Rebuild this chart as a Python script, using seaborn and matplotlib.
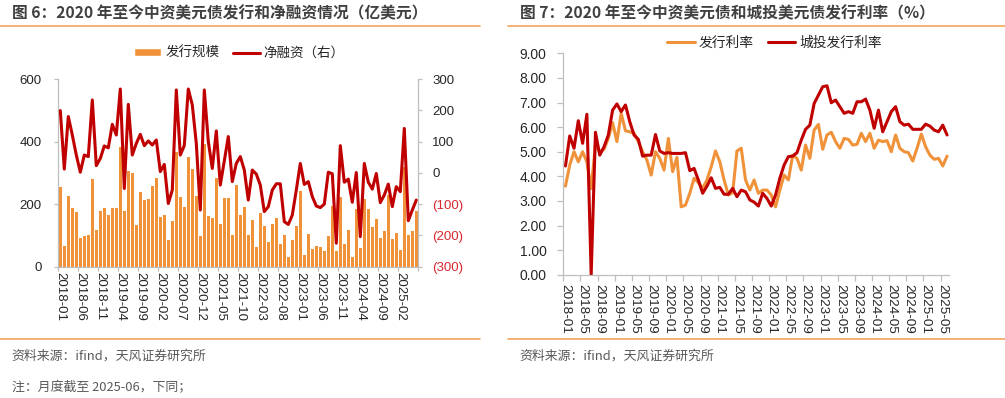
import numpy as np
import pandas as pd
import matplotlib
matplotlib.use('Agg')
import matplotlib.pyplot as plt
from matplotlib.lines import Line2D
from matplotlib.patches import Patch
import seaborn as sns

# Monthly categories 2018-01 .. 2025-06
months = pd.period_range('2018-01', '2025-06', freq='M').strftime('%Y-%m').tolist()

# Figure 6: issuance (left axis, 亿美元) and net financing (right axis)
issuance = [256, 67, 227, 188, 176, 91, 99, 100, 279, 117,
            178, 189, 165, 189, 189, 384, 178, 307, 300, 132,
            240, 214, 216, 257, 282, 158, 165, 86, 147, 368,
            223, 191, 350, 312, 225, 97, 391, 161, 155, 285,
            138, 219, 221, 101, 261, 165, 191, 101, 148, 64,
            172, 131, 78, 136, 157, 72, 100, 32, 85, 131,
            241, 38, 105, 56, 66, 64, 50, 98, 194, 51,
            223, 72, 117, 32, 183, 59, 218, 186, 126, 151,
            93, 115, 230, 90, 108, 53, 320, 101, 114, 178]
net_financing = [199, 12, 180, 121, 57, 2, 57, 52, 233, 23,
                 46, 86, 80, 155, 121, 268, -50, 219, 57, 94,
                 123, 87, 102, 89, 105, 4, 27, -98, -55, 265,
                 57, 87, 268, 217, 94, -119, 265, 100, 14, 134,
                 -39, 38, 116, -28, 30, 52, 9, -87, 9, -4,
                 -39, -124, -108, -55, -35, -35, -156, -165, -135, -55,
                 30, -37, -28, -76, -106, -111, -100, 2, -3, -225,
                 87, -30, -20, -94, 1, -204, 30, -30, -52, -2,
                 -95, -71, -36, -108, -44, -60, 142, -153, -119, -87]

# Figure 7: issuance rates (%)
rate_all = [3.60, 4.46, 5.00, 4.59, 5.00, 4.59, 3.50, 5.30, 5.00, 5.10,
            5.54, 6.18, 5.41, 6.56, 5.85, 5.81, 5.75, 5.41, 5.00, 4.66,
            4.05, 5.00, 4.73, 4.25, 5.54, 4.19, 4.77, 2.76, 2.83, 3.31,
            3.92, 3.74, 3.51, 3.85, 4.39, 5.03, 4.59, 3.85, 3.24, 3.33,
            5.03, 5.14, 3.85, 3.44, 3.85, 3.31, 3.44, 3.44, 3.24, 2.76,
            3.44, 4.05, 3.85, 4.86, 4.73, 4.25, 5.27, 4.73, 5.88, 6.11,
            5.10, 5.68, 5.79, 5.41, 5.14, 5.54, 5.50, 5.27, 5.30, 5.75,
            5.41, 5.75, 5.14, 5.47, 5.41, 5.45, 5.00, 5.68, 5.14, 5.00,
            4.96, 4.62, 5.14, 5.72, 5.20, 4.86, 4.69, 4.73, 4.42, 4.82]
rate_lgfv = [4.42, 5.64, 5.14, 6.26, 5.34, 6.52, 0.00, 5.79, 4.86, 5.20,
             5.68, 6.69, 6.94, 6.63, 6.90, 6.22, 5.68, 5.50, 4.82, 4.86,
             4.86, 5.70, 5.03, 4.93, 4.96, 4.93, 4.93, 4.93, 4.96, 4.23,
             4.32, 3.85, 3.31, 3.60, 3.94, 3.51, 3.55, 3.27, 3.27, 3.51,
             3.17, 3.44, 3.37, 3.04, 2.95, 2.79, 3.31, 3.10, 2.79, 3.24,
             3.92, 4.46, 4.80, 4.82, 4.96, 5.47, 5.91, 6.08, 6.96, 7.30,
             7.64, 7.68, 6.99, 7.10, 6.83, 6.56, 6.63, 6.56, 7.03, 7.03,
             7.14, 6.69, 5.95, 6.69, 5.81, 6.22, 6.63, 6.83, 6.22, 6.08,
             6.12, 5.91, 5.91, 5.91, 6.12, 6.04, 5.88, 5.81, 6.08, 5.68]

ORANGE = '#F0923A'
RED = '#C00000'
NEG_RED = '#D9262E'
AX_GRAY = '#BFBFBF'
TEXT = '#262626'
TITLE = '#404040'
SEP = '#F2A65E'

sns.set_style('white')
plt.rcParams['font.family'] = ['Liberation Sans', 'Noto Sans CJK SC']
plt.rcParams['axes.unicode_minus'] = False

W, H = 1005, 398
fig = plt.figure(figsize=(W / 100, H / 100), dpi=100)


def box(x0, x1, ytop, ybot):
    return [x0 / W, 1 - ybot / H, (x1 - x0) / W, (ybot - ytop) / H]


def style_axis(a, spines):
    for s in ['left', 'right', 'top', 'bottom']:
        a.spines[s].set_visible(s in spines)
        a.spines[s].set_color(AX_GRAY)
        a.spines[s].set_linewidth(0.9)


idx = np.arange(len(months))
df6 = pd.DataFrame({'month': months, 'idx': idx, 'issuance': issuance, 'net': net_financing})
df7 = pd.DataFrame({'idx': idx, '发行利率': rate_all, '城投发行利率': rate_lgfv})
df7_long = df7.melt(id_vars='idx', var_name='series', value_name='rate')

# ---------------- Figure 6 ----------------
ax = fig.add_axes(box(58.3, 418.3, 79, 266.7))
sns.barplot(data=df6, x='month', y='issuance', order=months, color=ORANGE,
            saturation=1, width=0.82, errorbar=None, edgecolor='none', linewidth=0, ax=ax)
ax.set_xlim(-0.5, len(months) - 0.5)
ax.set_ylim(0, 600)
ax.set_yticks([0, 200, 400, 600])
ax.set_xlabel('')
ax.set_ylabel('')
style_axis(ax, ['left', 'bottom'])

ax2 = ax.twinx()
ax2.plot(df6['idx'], df6['net'], color=RED, lw=2.2, solid_joinstyle='round')
ax2.set_xlim(-0.5, len(months) - 0.5)
ax2.set_ylim(-300, 300)
right_vals = [-300, -200, -100, 0, 100, 200, 300]
ax2.set_yticks(right_vals, labels=[f'({abs(v)})' if v < 0 else str(v) for v in right_vals])
for t, v in zip(ax2.get_yticklabels(), right_vals):
    t.set_color(NEG_RED if v < 0 else TEXT)
ax2.set_ylabel('')
style_axis(ax2, ['right'])

ax.set_xticks(idx[::5], labels=months[::5], rotation=-90, ha='center', va='top',
              fontsize=9.5, color=TEXT)
ax.set_xticks(np.arange(-0.5, len(months), 5), minor=True)
ax.tick_params(axis='x', which='major', length=0, pad=4)
ax.tick_params(axis='x', which='minor', length=3, color=AX_GRAY, width=0.9, direction='out', bottom=True)
ax.tick_params(axis='y', length=3, color=AX_GRAY, width=0.9, labelsize=9.5, labelcolor=TEXT, pad=9, left=True)
ax2.tick_params(axis='y', length=3, color=AX_GRAY, width=0.9, labelsize=9.5, pad=7, right=True)

fig.legend(handles=[Patch(facecolor=ORANGE), Line2D([0], [0], color=RED, lw=2.2)],
           labels=['发行规模', '净融资（右）'], loc='center', bbox_to_anchor=(239.5 / W, 1 - 53.3 / H),
           ncol=2, frameon=False, fontsize=9.7, handlelength=2.0, handleheight=0.5,
           handletextpad=0.3, columnspacing=1.0, labelcolor=TEXT)

# ---------------- Figure 7 ----------------
ax3 = fig.add_axes(box(563.3, 949.2, 53.3, 274.7))
sns.lineplot(data=df7_long, x='idx', y='rate', hue='series',
             palette={'发行利率': ORANGE, '城投发行利率': RED}, lw=2.2, legend=False, ax=ax3)
ax3.set_xlim(-0.5, len(months) - 0.5)
ax3.set_ylim(0, 9)
ax3.set_yticks(np.arange(0, 10), labels=[f'{v:.2f}' for v in range(10)])
ax3.set_xlabel('')
ax3.set_ylabel('')
style_axis(ax3, ['left', 'bottom'])
ax3.set_xticks(idx[::4], labels=months[::4], rotation=-90, ha='center', va='top',
               fontsize=9.7, color=TEXT)
ax3.set_xticks(np.arange(-0.5, len(months) - 1, 4), minor=True)
ax3.tick_params(axis='x', which='major', length=0, pad=7)
ax3.tick_params(axis='x', which='minor', length=4, color=AX_GRAY, width=0.9, direction='out', bottom=True)
ax3.tick_params(axis='y', length=4, color=AX_GRAY, width=0.9, labelsize=10, labelcolor=TEXT, pad=8, left=True)

fig.legend(handles=[Line2D([0], [0], color=ORANGE, lw=2.2), Line2D([0], [0], color=RED, lw=2.2)],
           labels=['发行利率', '城投发行利率'], loc='center', bbox_to_anchor=(774.5 / W, 1 - 42.7 / H),
           ncol=2, frameon=False, fontsize=9.9, handlelength=2.0,
           handletextpad=0.3, columnspacing=1.0, labelcolor=TEXT)

# ---------------- titles, separators, notes ----------------
title_font = ['Noto Sans CJK SC']
fig.text(12 / W, 1 - 13.5 / H, '图 6：2020 年至今中资美元债发行和净融资情况（亿美元）',
         ha='left', va='center', fontsize=11.3, fontweight='bold', color=TITLE, family=title_font)
fig.text(520 / W, 1 - 13.5 / H, '图 7：2020 年至今中资美元债和城投美元债发行利率（%）',
         ha='left', va='center', fontsize=11.3, fontweight='bold', color=TITLE, family=title_font)

for x0, x1 in [(0, 480), (508, 1005)]:
    for y in [26, 339.3]:
        fig.add_artist(Line2D([x0 / W, x1 / W], [1 - y / H] * 2, transform=fig.transFigure,
                              color=SEP, lw=1.2))

note_font = ['Noto Sans CJK SC']
fig.text(11.5 / W, 1 - 356.5 / H, '资料来源：ifind，天风证券研究所', ha='left', va='center',
         fontsize=9.3, color='#595959', family=note_font)
fig.text(519 / W, 1 - 356.5 / H, '资料来源：ifind，天风证券研究所', ha='left', va='center',
         fontsize=9.3, color='#595959', family=note_font)
fig.text(11.5 / W, 1 - 387.5 / H, '注：月度截至 2025-06，下同；', ha='left', va='center',
         fontsize=9.3, color='#595959', family=note_font)

fig.savefig('out.png', dpi=100)
